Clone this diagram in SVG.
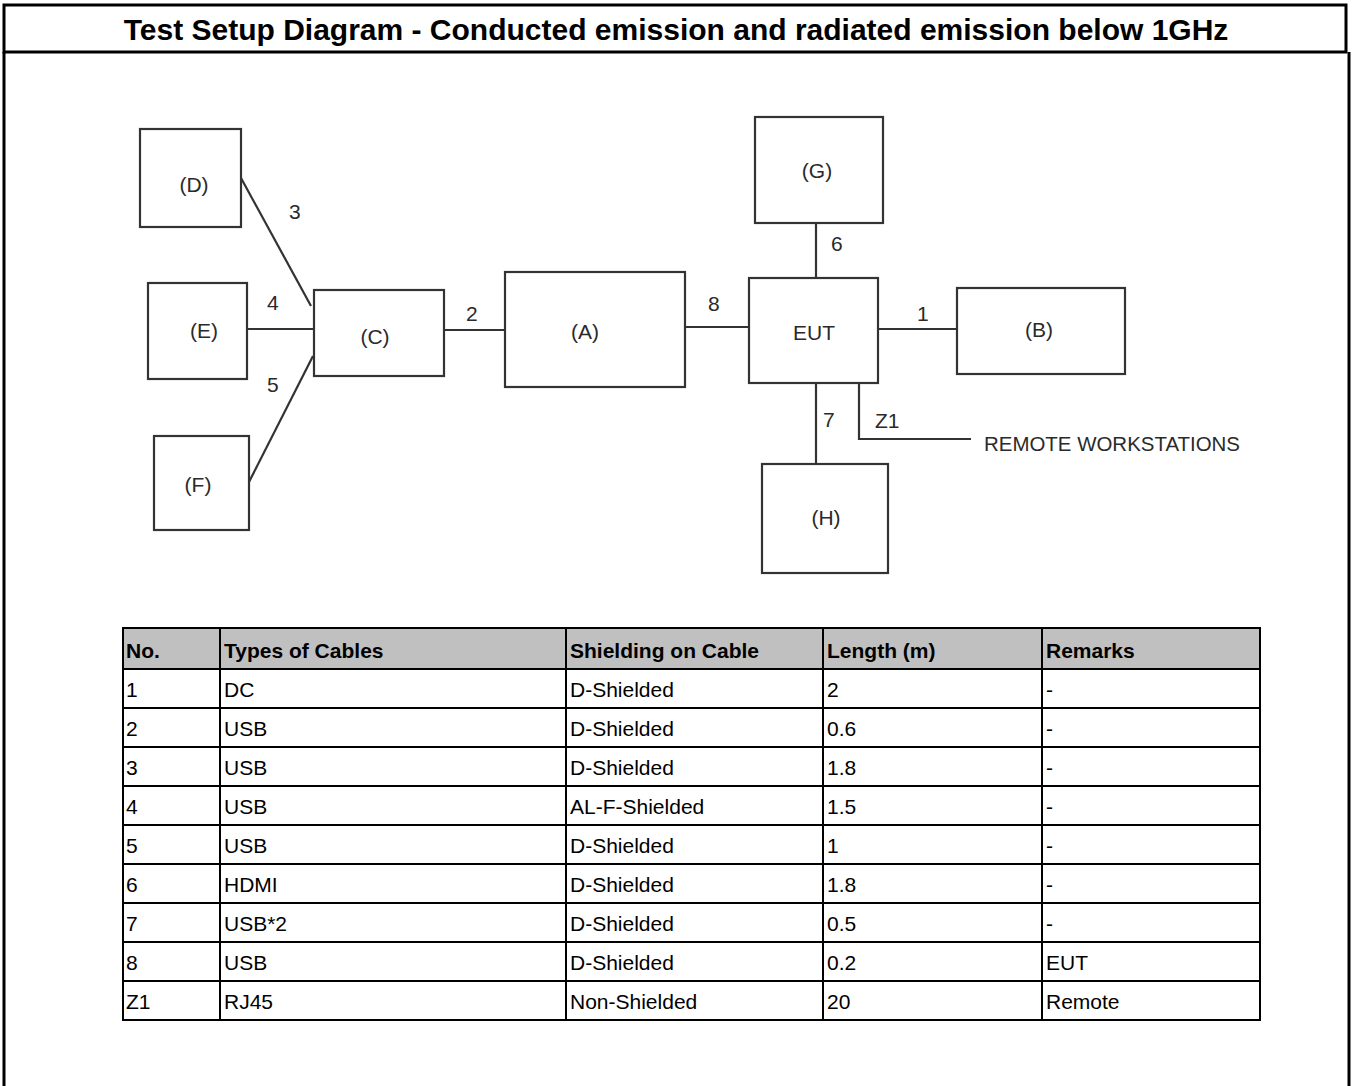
<svg xmlns="http://www.w3.org/2000/svg" width="1355" height="1086" viewBox="0 0 1355 1086">
<style>
.frame{fill:none;stroke:#000;stroke-width:3}
.box{fill:#fff;stroke:#333;stroke-width:2.2}
.wire{fill:none;stroke:#333;stroke-width:2.2}
.lbl{font-family:"Liberation Sans",Arial,sans-serif;font-size:21px;fill:#2a2a2a}
.nl{font-family:"Liberation Sans",Arial,sans-serif;font-size:21px;fill:#2a2a2a;text-anchor:middle}
.title{font-family:"Liberation Sans",Arial,sans-serif;font-size:30px;font-weight:bold;fill:#000;text-anchor:middle}
.th{font-family:"Liberation Sans",Arial,sans-serif;font-size:21px;font-weight:bold;fill:#000}
.td{font-family:"Liberation Sans",Arial,sans-serif;font-size:21px;fill:#000}
.grid{stroke:#000;stroke-width:2;fill:none}
</style>
<rect width="1355" height="1086" fill="#fff"/>
<g id="frame">
<rect class="frame" x="4" y="5" width="1342" height="47"/>
<line class="frame" x1="4" y1="52" x2="4" y2="1086"/>
<line class="frame" x1="1349" y1="52" x2="1349" y2="1086"/>
<text class="title" x="676" y="40">Test Setup Diagram - Conducted emission and radiated emission below 1GHz</text>
</g>
<g id="connectors">
<line class="wire" x1="241" y1="178" x2="311" y2="306"/>
<text class="lbl" x="289" y="219">3</text>
<line class="wire" x1="247" y1="329" x2="314" y2="329"/>
<text class="lbl" x="267" y="310">4</text>
<line class="wire" x1="249" y1="482" x2="313" y2="356"/>
<text class="lbl" x="267" y="392">5</text>
<line class="wire" x1="444" y1="330" x2="505" y2="330"/>
<text class="lbl" x="466" y="321">2</text>
<line class="wire" x1="685" y1="327" x2="749" y2="327"/>
<text class="lbl" x="708" y="311">8</text>
<line class="wire" x1="816" y1="223" x2="816" y2="278"/>
<text class="lbl" x="831" y="251">6</text>
<line class="wire" x1="878" y1="329" x2="957" y2="329"/>
<text class="lbl" x="917" y="321">1</text>
<line class="wire" x1="816" y1="383" x2="816" y2="464"/>
<text class="lbl" x="823" y="427">7</text>
<polyline class="wire" points="859,383 859,439 971,439"/>
<text class="lbl" x="875" y="428">Z1</text>
<text class="lbl" x="984" y="451" textLength="256" lengthAdjust="spacingAndGlyphs">REMOTE WORKSTATIONS</text>
</g>
<g id="node-D"><rect class="box" x="140" y="129" width="101" height="98"/><text class="nl" x="194" y="192">(D)</text></g>
<g id="node-E"><rect class="box" x="148" y="283" width="99" height="96"/><text class="nl" x="204" y="338">(E)</text></g>
<g id="node-F"><rect class="box" x="154" y="436" width="95" height="94"/><text class="nl" x="198" y="492">(F)</text></g>
<g id="node-C"><rect class="box" x="314" y="290" width="130" height="86"/><text class="nl" x="375" y="344">(C)</text></g>
<g id="node-A"><rect class="box" x="505" y="272" width="180" height="115"/><text class="nl" x="585" y="339">(A)</text></g>
<g id="node-EUT"><rect class="box" x="749" y="278" width="129" height="105"/><text class="nl" x="814" y="340">EUT</text></g>
<g id="node-G"><rect class="box" x="755" y="117" width="128" height="106"/><text class="nl" x="817" y="178">(G)</text></g>
<g id="node-B"><rect class="box" x="957" y="288" width="168" height="86"/><text class="nl" x="1039" y="337">(B)</text></g>
<g id="node-H"><rect class="box" x="762" y="464" width="126" height="109"/><text class="nl" x="826" y="525">(H)</text></g>
<g id="table">
<rect x="123" y="628" width="1137" height="41" fill="#c0c0c0"/>
<g class="grid">
<rect x="123" y="628" width="1137" height="392"/>
<line x1="220" y1="628" x2="220" y2="1020"/>
<line x1="566" y1="628" x2="566" y2="1020"/>
<line x1="823" y1="628" x2="823" y2="1020"/>
<line x1="1042" y1="628" x2="1042" y2="1020"/>
<line x1="123" y1="669" x2="1260" y2="669"/>
<line x1="123" y1="708" x2="1260" y2="708"/>
<line x1="123" y1="747" x2="1260" y2="747"/>
<line x1="123" y1="786" x2="1260" y2="786"/>
<line x1="123" y1="825" x2="1260" y2="825"/>
<line x1="123" y1="864" x2="1260" y2="864"/>
<line x1="123" y1="903" x2="1260" y2="903"/>
<line x1="123" y1="942" x2="1260" y2="942"/>
<line x1="123" y1="981" x2="1260" y2="981"/>
</g>
<text class="th" x="126" y="658">No.</text>
<text class="th" x="224" y="658">Types of Cables</text>
<text class="th" x="570" y="658">Shielding on Cable</text>
<text class="th" x="827" y="658">Length (m)</text>
<text class="th" x="1046" y="658">Remarks</text>
<g class="td">
<text x="126" y="697">1</text><text x="224" y="697">DC</text><text x="570" y="697">D-Shielded</text><text x="827" y="697">2</text><text x="1046" y="697">-</text>
<text x="126" y="736">2</text><text x="224" y="736">USB</text><text x="570" y="736">D-Shielded</text><text x="827" y="736">0.6</text><text x="1046" y="736">-</text>
<text x="126" y="775">3</text><text x="224" y="775">USB</text><text x="570" y="775">D-Shielded</text><text x="827" y="775">1.8</text><text x="1046" y="775">-</text>
<text x="126" y="814">4</text><text x="224" y="814">USB</text><text x="570" y="814">AL-F-Shielded</text><text x="827" y="814">1.5</text><text x="1046" y="814">-</text>
<text x="126" y="853">5</text><text x="224" y="853">USB</text><text x="570" y="853">D-Shielded</text><text x="827" y="853">1</text><text x="1046" y="853">-</text>
<text x="126" y="892">6</text><text x="224" y="892">HDMI</text><text x="570" y="892">D-Shielded</text><text x="827" y="892">1.8</text><text x="1046" y="892">-</text>
<text x="126" y="931">7</text><text x="224" y="931">USB*2</text><text x="570" y="931">D-Shielded</text><text x="827" y="931">0.5</text><text x="1046" y="931">-</text>
<text x="126" y="970">8</text><text x="224" y="970">USB</text><text x="570" y="970">D-Shielded</text><text x="827" y="970">0.2</text><text x="1046" y="970">EUT</text>
<text x="126" y="1009">Z1</text><text x="224" y="1009">RJ45</text><text x="570" y="1009">Non-Shielded</text><text x="827" y="1009">20</text><text x="1046" y="1009">Remote</text>
</g>
</g>
</svg>
